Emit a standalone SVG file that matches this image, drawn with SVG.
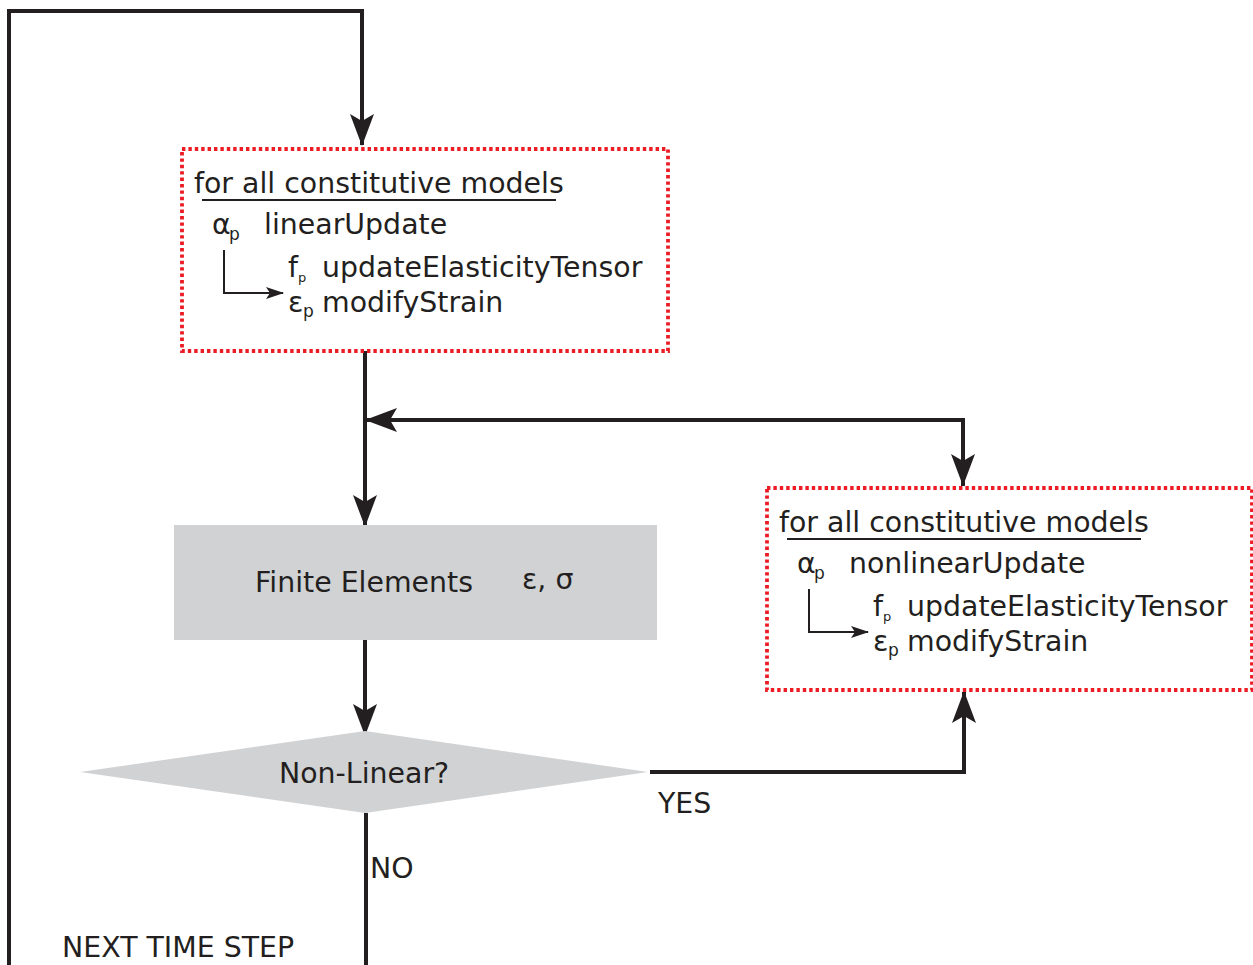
<svg xmlns="http://www.w3.org/2000/svg" width="1253" height="965" viewBox="0 0 1253 965">
<style>
text{font-family:"DejaVu Sans","Liberation Sans",sans-serif;font-size:28.4px;fill:#231f20}
.sub{font-size:17px}
.subs{font-size:13px}
.box{fill:#fff;stroke:#ed1c24;stroke-width:3.8;stroke-dasharray:3.4 3}
.conn{fill:none;stroke:#231f20;stroke-width:4}
.thin{fill:none;stroke:#231f20;stroke-width:2}
.shape{fill:#d1d2d4}
</style>
<defs>
<marker id="ah" markerUnits="userSpaceOnUse" viewBox="0 0 32 24" markerWidth="32" markerHeight="24" refX="31" refY="12" orient="auto">
<path d="M32,12 L0,0 L7,12 L0,24 Z" fill="#231f20"/>
</marker>
<marker id="ahs" markerUnits="userSpaceOnUse" viewBox="0 0 18 12" markerWidth="18" markerHeight="12" refX="17" refY="6" orient="auto">
<path d="M18,6 L0,0 L4,6 L0,12 Z" fill="#231f20"/>
</marker>
</defs>
<g id="connectors">
<polyline class="conn" points="9,965 9,11 362,11 362,145" marker-end="url(#ah)"/>
<polyline class="conn" points="365,351 365,526" marker-end="url(#ah)"/>
<polyline class="conn" points="963,486 963,420 366,420" marker-end="url(#ah)"/>
<polyline class="conn" points="963,420 963,485" marker-end="url(#ah)"/>
<polyline class="conn" points="365,640 365,735" marker-end="url(#ah)"/>
<polyline class="conn" points="650,772 964,772 964,692" marker-end="url(#ah)"/>
<polyline class="conn" points="366,813 366,965"/>
</g>
<g id="linear-box">
<rect class="box" x="182" y="149" width="486" height="202"/>
<text x="194" y="193">for all constitutive models</text>
<line x1="202" y1="200" x2="556" y2="200" stroke="#231f20" stroke-width="2"/>
<text x="212" y="234">α</text><text class="sub" x="229" y="240">p</text>
<text x="264" y="234">linearUpdate</text>
<polyline class="thin" points="224,250 224,293 283,293" marker-end="url(#ahs)"/>
<text x="288" y="277">f</text><text class="subs" x="298" y="282">p</text>
<text x="322" y="277">updateElasticityTensor</text>
<text x="288" y="312">ε</text><text class="sub" x="303" y="317">p</text>
<text x="322" y="312">modifyStrain</text>
</g>
<g id="finite-elements">
<rect class="shape" x="174" y="525" width="483" height="115"/>
<text x="255" y="592">Finite Elements</text>
<text x="522" y="589">ε, σ</text>
</g>
<g id="nonlinear-decision">
<polygon class="shape" points="365,731 648,772 365,813 80,772"/>
<text x="279" y="783">Non-Linear?</text>
</g>
<g id="nonlinear-box">
<rect class="box" x="767" y="488" width="485" height="202"/>
<text x="779" y="532">for all constitutive models</text>
<line x1="787" y1="539" x2="1141" y2="539" stroke="#231f20" stroke-width="2"/>
<text x="797" y="573">α</text><text class="sub" x="814" y="579">p</text>
<text x="849" y="573">nonlinearUpdate</text>
<polyline class="thin" points="809,589 809,632 868,632" marker-end="url(#ahs)"/>
<text x="873" y="616">f</text><text class="subs" x="883" y="621">p</text>
<text x="907" y="616">updateElasticityTensor</text>
<text x="873" y="651">ε</text><text class="sub" x="888" y="656">p</text>
<text x="907" y="651">modifyStrain</text>
</g>
<g id="labels">
<text x="658" y="813">YES</text>
<text x="370" y="878">NO</text>
<text x="62" y="957">NEXT TIME STEP</text>
</g>
</svg>
